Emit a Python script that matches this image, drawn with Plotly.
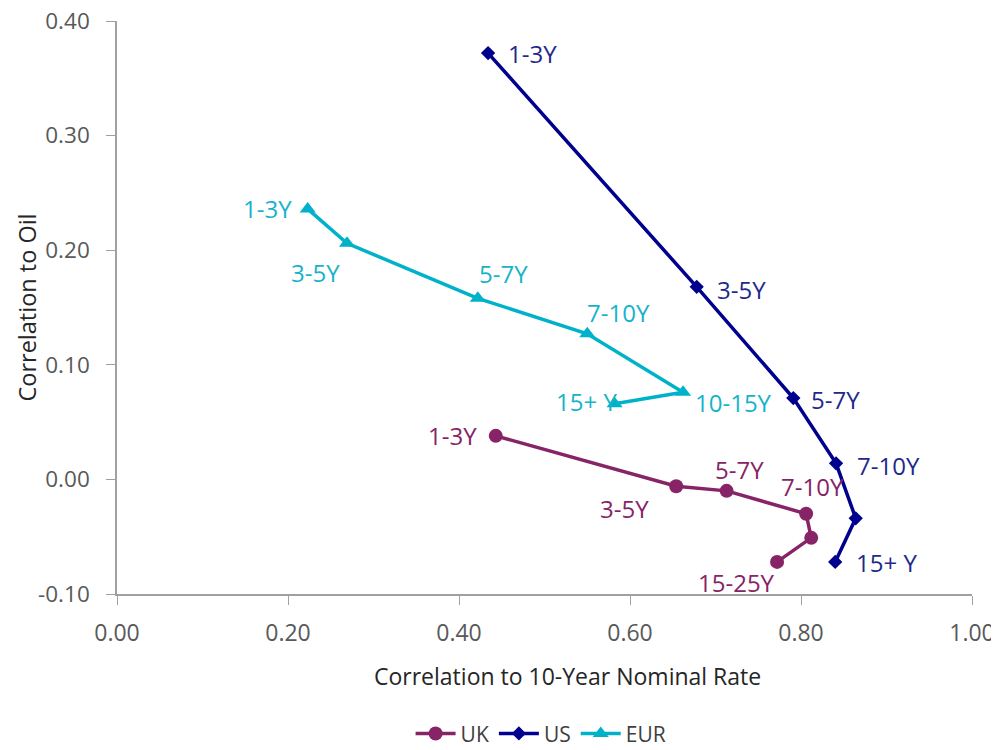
import plotly.graph_objects as go

uk_x = [0.443, 0.654, 0.713, 0.806, 0.812, 0.772]
uk_y = [0.038, -0.006, -0.010, -0.030, -0.051, -0.072]
uk_labels = ["1-3Y", "3-5Y", "5-7Y", "7-10Y", "", "15-25Y"]

us_x = [0.434, 0.678, 0.791, 0.841, 0.864, 0.840]
us_y = [0.372, 0.168, 0.071, 0.014, -0.034, -0.072]
us_labels = ["1-3Y", "3-5Y", "5-7Y", "7-10Y", "", "15+ Y"]

eur_x = [0.223, 0.269, 0.422, 0.550, 0.662, 0.582]
eur_y = [0.236, 0.206, 0.158, 0.127, 0.076, 0.066]
eur_labels = ["1-3Y", "3-5Y", "5-7Y", "7-10Y", "10-15Y", "15+ Y"]

x_ticks = [0.0, 0.2, 0.4, 0.6, 0.8, 1.0]
y_ticks = [-0.1, 0.0, 0.1, 0.2, 0.3, 0.4]

x_title = "Correlation to 10-Year Nominal Rate"
y_title = "Correlation to Oil"

UK_C = "#862467"
US_C = "#00008E"
EUR_C = "#00B2C9"
FONT = "Open Sans"

fig = go.Figure()
fig.add_trace(go.Scatter(x=uk_x, y=uk_y, name="UK", mode="lines+markers",
                         line=dict(color=UK_C, width=3.5),
                         marker=dict(symbol="circle", size=14, color=UK_C)))
fig.add_trace(go.Scatter(x=us_x, y=us_y, name="US", mode="lines+markers",
                         line=dict(color=US_C, width=3.5),
                         marker=dict(symbol="diamond", size=11, color=US_C)))
fig.add_trace(go.Scatter(x=eur_x, y=eur_y, name="EUR", mode="lines+markers",
                         line=dict(color=EUR_C, width=3.5),
                         marker=dict(symbol="triangle-up", size=14, color=EUR_C)))

# label placement: (xanchor, xshift, yshift)
uk_pos = [("right", -17, 0), ("right", -25, -22), ("left", -14, 21), ("left", -27, 27), None, ("center", -41, -21)]
us_pos = [("left", 18, 0), ("left", 18, -3), ("left", 16, -1), ("left", 19, -2), None, ("left", 19, -1)]
eur_pos = [("right", -14, 0), ("center", -32, -29), ("left", -1, 25), ("left", -2, 21), ("left", 10, -10), ("right", 4, 2)]

annotations = []
for xs, ys, labs, pos, col in [(uk_x, uk_y, uk_labels, uk_pos, UK_C),
                               (us_x, us_y, us_labels, us_pos, "#1E2A8A"),
                               (eur_x, eur_y, eur_labels, eur_pos, "#17B3C9")]:
    for x, y, t, p in zip(xs, ys, labs, pos):
        if not t or p is None:
            continue
        annotations.append(dict(x=x, y=y, text=t, showarrow=False, xanchor=p[0], yanchor="middle",
                                xshift=p[1], yshift=p[2], font=dict(family=FONT, size=24, color=col)))

# axis titles
annotations.append(dict(text=x_title, xref="paper", yref="paper", x=0.527, y=0, yshift=-82,
                        xanchor="center", yanchor="middle", showarrow=False,
                        font=dict(family=FONT, size=23, color="#262626")))
annotations.append(dict(text=y_title, xref="paper", yref="paper", x=0, y=0.5, xshift=-91,
                        xanchor="center", yanchor="middle", textangle=-90, showarrow=False,
                        font=dict(family=FONT, size=23.5, color="#262626")))

fig.update_layout(
    width=991, height=742,
    paper_bgcolor="white", plot_bgcolor="white",
    margin=dict(l=109, r=27, t=13, b=156, autoexpand=False),
    font=dict(family=FONT, color="#595959"),
    showlegend=True,
    legend=dict(orientation="h", x=0.496, xanchor="center", y=-0.244, yanchor="middle",
                itemwidth=40, font=dict(family=FONT, size=21, color="#404040")),
    annotations=annotations,
    xaxis=dict(range=[0, 1], tickvals=x_ticks, ticktext=[f"{v:.2f}" for v in x_ticks],
               showgrid=False, zeroline=False, showline=True, linecolor="#A0A0A0", linewidth=1.5,
               ticks="outside", ticklen=9, tickcolor="#A0A0A0", automargin=False,
               ticklabelstandoff=9, ticklabeloverflow="allow",
               tickfont=dict(family=FONT, size=23, color="#595959")),
    yaxis=dict(range=[-0.1, 0.4], tickvals=y_ticks, ticktext=[f"{v:.2f}" for v in y_ticks],
               showgrid=False, zeroline=False, showline=True, linecolor="#A0A0A0", linewidth=1.5,
               ticks="outside", ticklen=9, tickcolor="#A0A0A0", automargin=False,
               ticklabelstandoff=12, ticklabeloverflow="allow",
               tickfont=dict(family=FONT, size=22.5, color="#595959")),
)

fig.write_html("out.html")
